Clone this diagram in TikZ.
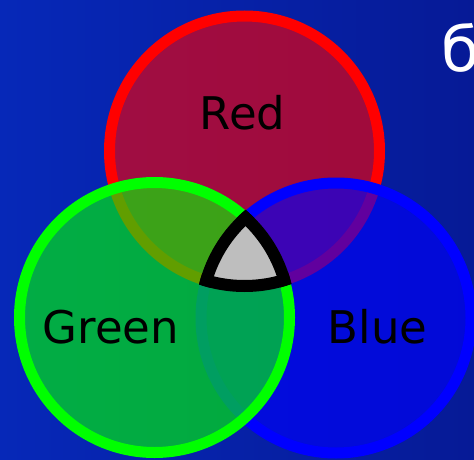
\documentclass[tikz,border=0pt]{standalone}
\usepackage{fontspec}
\newfontfamily\labelfont{DejaVu Sans}
\definecolor{bgleft}{RGB}{6,40,184}
\definecolor{bgright}{RGB}{6,26,150}
\definecolor{core}{RGB}{190,190,190}

\begin{document}
\begin{tikzpicture}[x=1pt,y=-1pt,
  disc/.style={line width=11pt, fill opacity=0.62},
  tag/.style={font=\labelfont\fontsize{45}{54}\selectfont, anchor=base, inner sep=0pt}]
\def\rr{135pt}

\useasboundingbox (0,0) rectangle (474,460);
\shade [left color=bgleft, right color=bgright] (0,0) rectangle (474,460);

\coordinate (cr) at (244.5,151);
\coordinate (cg) at (154.5,317.5);
\coordinate (cb) at (336,318);

% the three discs, green on top
\draw [disc, draw=red, fill=red] (cr) circle [radius=\rr];
\draw [disc, draw=blue, fill=blue] (cb) circle [radius=\rr];
\draw [disc, draw=green, fill=green] (cg) circle [radius=\rr];

% common part
\begin{scope}
\clip (cg) circle [radius=\rr];
\clip (cb) circle [radius=\rr];
\fill [core] (cr) circle [radius=\rr];
\end{scope}
\begin{scope}
\clip (cg) circle [radius=\rr+6pt];
\clip (cb) circle [radius=\rr+6pt];
\draw [line width=12pt] (cr) circle [radius=\rr];
\end{scope}
\begin{scope}
\clip (cr) circle [radius=\rr+6pt];
\clip (cb) circle [radius=\rr+6pt];
\draw [line width=12pt] (cg) circle [radius=\rr];
\end{scope}
\begin{scope}
\clip (cr) circle [radius=\rr+6pt];
\clip (cg) circle [radius=\rr+6pt];
\draw [line width=12pt] (cb) circle [radius=\rr];
\end{scope}

\node [tag] (red) at (242.5,129) {Red};
\node [tag] (green) at (111,343) {Green};
\node [tag] (blue) at (377.5,343) {Blue};
\node [font=\labelfont\fontsize{62}{70}\selectfont, text=white, anchor=base west, inner sep=0pt] (mark) at (441,72) {б};

\end{tikzpicture}
\end{document}
